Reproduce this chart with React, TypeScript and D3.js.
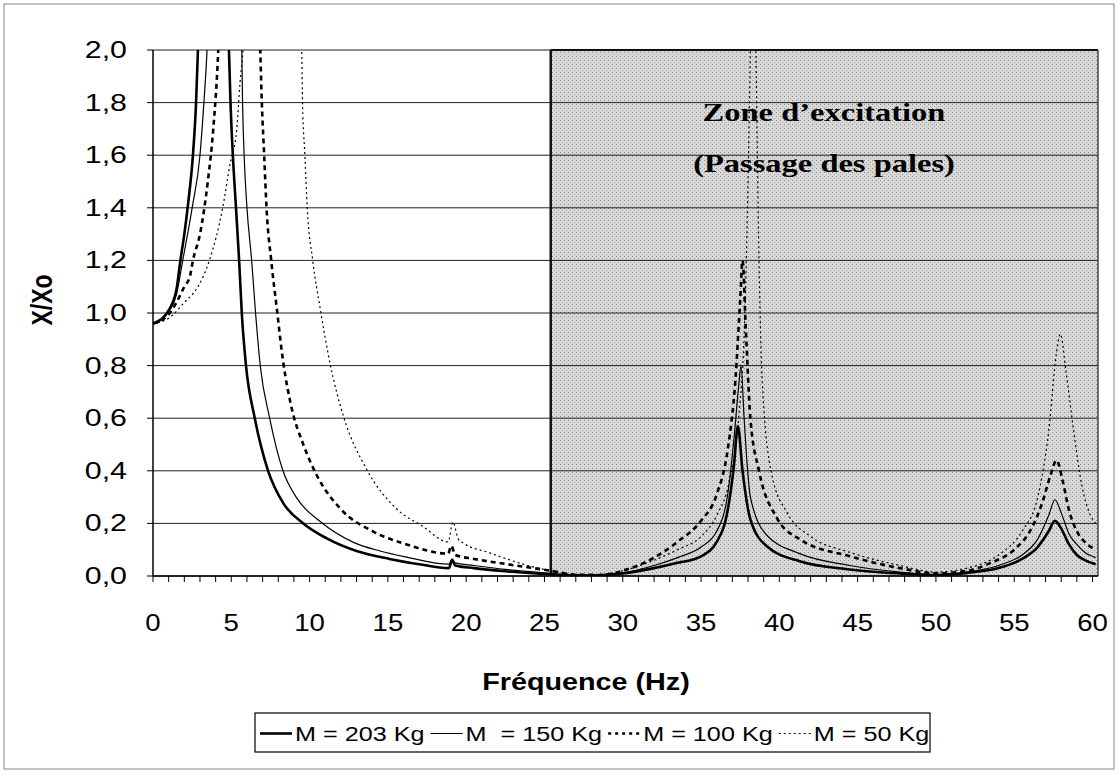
import React from "react";
import * as d3 from "d3";

// ---- data (frequency Hz, X/Xo) ----
const series203: [number, number][] = [
  [0, 0.96], [0.5, 0.975], [1, 1.01], [1.5, 1.09], [1.75, 1.2], [2.0, 1.3], [2.25, 1.42], [2.55, 1.6], [2.75, 1.8], [2.87, 2.0], [3.8, 6],
  [4.85, 2.0], [4.95, 1.8], [5.1, 1.6], [5.3, 1.4], [5.5, 1.2], [5.67, 1.0], [5.94, 0.8], [6.5, 0.6], [7.35, 0.4], [8.33, 0.276], [9.6, 0.2],
  [11.1, 0.143], [13, 0.095], [15.1, 0.065], [17, 0.045], [18.9, 0.03], [19.1, 0.06], [19.3, 0.04], [20.5, 0.03], [22.5, 0.018], [25.4, 0.006],
  [27, 0.002], [28.5, 0.003], [30, 0.01], [32, 0.03], [33.5, 0.05], [35, 0.075], [36, 0.13], [36.7, 0.25], [37.1, 0.42], [37.35, 0.57],
  [37.65, 0.4], [38.15, 0.215], [39.2, 0.113], [41.3, 0.056], [44.5, 0.025], [47.7, 0.01], [50, 0.004], [52, 0.012], [54, 0.03], [55.5, 0.065],
  [56.5, 0.11], [57.2, 0.17], [57.6, 0.21], [58, 0.18], [58.5, 0.12], [59, 0.08], [59.5, 0.06], [60.2, 0.045],
];
const series150: [number, number][] = [
  [0, 0.96], [0.5, 0.975], [1, 1.005], [1.5, 1.07], [1.9, 1.2], [2.5, 1.4], [3.0, 1.6], [3.25, 1.8], [3.45, 2.0], [4.5, 6],
  [5.67, 2.0], [5.72, 1.8], [5.82, 1.6], [6.0, 1.4], [6.3, 1.2], [6.55, 1.0], [6.85, 0.8], [7.45, 0.6], [8.3, 0.4], [9.2, 0.295], [10.7, 0.206],
  [12.8, 0.128], [14.5, 0.095], [16.2, 0.072], [18.9, 0.045], [19.1, 0.065], [19.3, 0.05], [20.5, 0.04], [22.5, 0.025], [25.4, 0.01],
  [27, 0.003], [28.5, 0.004], [30, 0.012], [32, 0.04], [33.5, 0.07], [35, 0.11], [36, 0.17], [36.7, 0.31], [37.1, 0.52], [37.4, 0.72], [37.55, 0.8],
  [37.75, 0.6], [37.95, 0.42], [38.15, 0.3], [39.2, 0.155], [41.3, 0.085], [44.5, 0.04], [47.7, 0.015], [50, 0.005], [52, 0.015], [54, 0.04],
  [55.5, 0.08], [56.5, 0.14], [57.2, 0.23], [57.6, 0.29], [58, 0.24], [58.5, 0.16], [59, 0.12], [59.5, 0.09], [60.2, 0.07],
];
const series100: [number, number][] = [
  [0, 0.96], [0.5, 0.97], [1, 0.995], [1.5, 1.04], [2.0, 1.1], [2.36, 1.14], [2.55, 1.2], [3.0, 1.3], [3.5, 1.5], [3.85, 1.7], [4.17, 2.0], [5.5, 6],
  [6.85, 2.0], [6.95, 1.8], [7.1, 1.6], [7.25, 1.4], [7.55, 1.2], [7.9, 1.02], [8.3, 0.82], [8.85, 0.64], [9.6, 0.5], [10.45, 0.384], [11.95, 0.257],
  [14.1, 0.168], [16.2, 0.12], [18.85, 0.085], [19.05, 0.115], [19.3, 0.08], [20.5, 0.065], [22.6, 0.045], [25.4, 0.02],
  [27, 0.005], [28.5, 0.004], [30, 0.02], [32, 0.07], [33.5, 0.13], [35, 0.21], [36, 0.31], [36.7, 0.48], [37.2, 0.75], [37.5, 1.05], [37.65, 1.2],
  [37.85, 0.95], [38.15, 0.6], [38.7, 0.4], [39.85, 0.22], [41.3, 0.14], [44.5, 0.075], [47.7, 0.03], [50, 0.01], [52, 0.02], [53.5, 0.05],
  [55, 0.1], [56, 0.17], [56.8, 0.28], [57.3, 0.38], [57.7, 0.44], [58.1, 0.36], [58.5, 0.25], [59, 0.17], [59.5, 0.13], [60.2, 0.1],
];
const series50: [number, number][] = [
  [0, 0.96], [1, 0.98], [2, 1.04], [2.87, 1.1], [3.6, 1.2], [4.45, 1.4], [4.9, 1.56], [5.35, 1.7], [5.55, 1.87], [5.75, 2.0], [7.6, 6],
  [9.5, 2.0], [9.55, 1.8], [9.7, 1.6], [9.85, 1.4], [10.2, 1.2], [10.67, 1.02], [11.3, 0.81], [12.15, 0.61], [13.65, 0.405], [15.6, 0.253],
  [17.2, 0.19], [18.85, 0.13], [19.15, 0.205], [19.5, 0.14], [19.8, 0.126], [21.5, 0.088], [23.7, 0.044], [25.4, 0.02],
  [27, 0.006], [28.5, 0.005], [30, 0.02], [32, 0.06], [33.5, 0.1], [35, 0.15], [36, 0.23], [36.8, 0.36], [37.4, 0.6], [37.8, 1.0], [38.0, 1.5],
  [38.15, 2.0], [38.3, 2.6], [38.5, 2.0], [38.7, 1.2], [38.9, 0.75], [39.5, 0.39], [40.5, 0.24], [42, 0.15], [44.5, 0.09], [47.7, 0.04],
  [50, 0.015], [52, 0.03], [54, 0.08], [55.5, 0.17], [56.5, 0.3], [57.2, 0.55], [57.7, 0.85], [57.95, 0.92], [58.3, 0.78], [58.8, 0.55],
  [59.3, 0.35], [59.8, 0.24], [60.2, 0.2],
];

const xTicks = [0, 5, 10, 15, 20, 25, 30, 35, 40, 45, 50, 55, 60];
const yTicks = [0, 0.2, 0.4, 0.6, 0.8, 1.0, 1.2, 1.4, 1.6, 1.8, 2.0];
const legendLabels = ["M = 203 Kg", "M  = 150 Kg", "M = 100 Kg", "M = 50 Kg"];
const zoneStart = 25.4;
const zoneTitle = ["Zone d\u2019excitation", "(Passage des pales)"];

const W = 1118, H = 773;
const L = 153, R = 1098, T = 50, B = 576;

const styles = [
  { w: 2.6, dash: "" },
  { w: 1.2, dash: "" },
  { w: 2.6, dash: "5,4" },
  { w: 1.2, dash: "2,3" },
];

function SText(props: { x: number; y: number; anchor?: string; size: number; sx?: number; bold?: boolean; family?: string; children: React.ReactNode }) {
  const { x, y, anchor = "start", size, sx = 1.3, bold, family = "'Liberation Sans', Arial, sans-serif" } = props;
  return (
    <text
      transform={`translate(${x},${y}) scale(${sx},1)`}
      textAnchor={anchor}
      fontSize={size}
      fontWeight={bold ? "bold" : "normal"}
      fontFamily={family}
      fill="#000"
      style={{ whiteSpace: "pre" }}
    >
      {props.children}
    </text>
  );
}

export default function App() {
  const x = d3.scaleLinear().domain([0, 60.35]).range([L, R]);
  const y = d3.scaleLinear().domain([0, 2]).range([B, T]);
  const line = d3
    .line<[number, number]>()
    .x((d) => x(d[0]))
    .y((d) => y(d[1]))
    .curve(d3.curveMonotoneX);
  const all = [series203, series150, series100, series50];
  const fmt = (v: number) => d3.format(".1f")(v).replace(".", ",");
  const minor = d3.range(0, 61, 1);

  // legend layout
  const lgX = 255, lgY = 713, lgW = 675, lgH = 39;
  const LSX = 1.2, LFS = 21;
  const sampleW = 32;
  const emW = [5.142, 5.42, 5.142, 4.586];
  let cx = lgX + 5;
  const items = legendLabels.map((lab, i) => {
    const sxp = cx;
    const tx = sxp + sampleW + 3;
    cx = tx + emW[i] * LFS * LSX + 6;
    return { lab, sxp, tx, i };
  });

  return (
    <svg width={W} height={H} style={{ position: "absolute", left: 0, top: 0, background: "#fff" }}>
      <defs>
        <clipPath id="plotClip">
          <rect x={L} y={T} width={R - L} height={B - T} />
        </clipPath>
        <pattern id="stipple" width="4" height="4" patternUnits="userSpaceOnUse">
          <rect width="4" height="4" fill="#d8d8d8" />
          <rect x="0" y="0" width="1" height="1" fill="#8a8a8a" />
          <rect x="2" y="2" width="1" height="1" fill="#a8a8a8" />
        </pattern>
      </defs>
      <rect x={0} y={0} width={W} height={H} fill="#fff" />
      <rect x={4} y={4} width={W - 8} height={H - 8} fill="none" stroke="#888" strokeWidth={1} />

      {/* excitation zone */}
      <rect x={x(zoneStart)} y={T} width={R - x(zoneStart)} height={B - T} fill="url(#stipple)" />

      {/* gridlines */}
      {yTicks.map((t) => (
        <line key={t} x1={L} x2={R} y1={y(t)} y2={y(t)} stroke="#222" strokeWidth={1} />
      ))}
      {/* zone border */}
      <line x1={x(zoneStart)} x2={x(zoneStart)} y1={T} y2={B} stroke="#111" strokeWidth={2.5} />
      <line x1={x(zoneStart)} x2={R} y1={T} y2={T} stroke="#111" strokeWidth={2} />
      <line x1={R} x2={R} y1={T} y2={B} stroke="#444" strokeWidth={1.5} />

      {/* axes */}
      <line x1={L} x2={L} y1={T} y2={B} stroke="#000" strokeWidth={1.5} />
      <line x1={L} x2={R} y1={B} y2={B} stroke="#000" strokeWidth={1.5} />
      {yTicks.map((t) => (
        <line key={"yt" + t} x1={L - 6} x2={L} y1={y(t)} y2={y(t)} stroke="#000" strokeWidth={1} />
      ))}
      {minor.map((t) => (
        <line key={"xt" + t} x1={x(t)} x2={x(t)} y1={B} y2={B + 6} stroke="#000" strokeWidth={1} />
      ))}

      {/* series */}
      <g clipPath="url(#plotClip)">
        {all.map((s, i) => (
          <path key={i} d={line(s) || ""} fill="none" stroke="#000" strokeWidth={styles[i].w} strokeDasharray={styles[i].dash || undefined} strokeLinejoin="round" />
        ))}
      </g>

      {/* zone title */}
      <SText x={824} y={121} anchor="middle" size={25} bold family="'Liberation Serif', 'Times New Roman', serif">{zoneTitle[0]}</SText>
      <SText x={824} y={172} anchor="middle" size={25} bold family="'Liberation Serif', 'Times New Roman', serif">{zoneTitle[1]}</SText>

      {/* tick labels */}
      {yTicks.map((t) => (
        <SText key={"yl" + t} x={127} y={y(t) + 8} anchor="end" size={23} sx={1.32}>{fmt(t)}</SText>
      ))}
      {xTicks.map((t) => (
        <SText key={"xl" + t} x={x(t)} y={631} anchor="middle" size={23} sx={1.2}>{String(t)}</SText>
      ))}

      {/* axis titles */}
      <SText x={586} y={690} anchor="middle" size={23} sx={1.25} bold>Fréquence (Hz)</SText>
      <text transform={`translate(52,300) scale(1.3,1) rotate(-90)`} textAnchor="middle" fontSize={23} fontWeight="bold" fontFamily="'Liberation Sans', Arial, sans-serif">X/Xo</text>

      {/* legend */}
      <rect x={lgX} y={lgY} width={lgW} height={lgH} fill="#fff" stroke="#000" strokeWidth={1.2} />
      {items.map(({ lab, sxp, tx, i }) => (
        <g key={lab}>
          <line x1={sxp} x2={sxp + sampleW} y1={lgY + lgH / 2 + 1} y2={lgY + lgH / 2 + 1} stroke="#000" strokeWidth={styles[i].w} strokeDasharray={i === 2 ? "3,4" : styles[i].dash || undefined} />
          <SText x={tx} y={lgY + 28} size={LFS} sx={LSX}>{lab}</SText>
        </g>
      ))}
    </svg>
  );
}
